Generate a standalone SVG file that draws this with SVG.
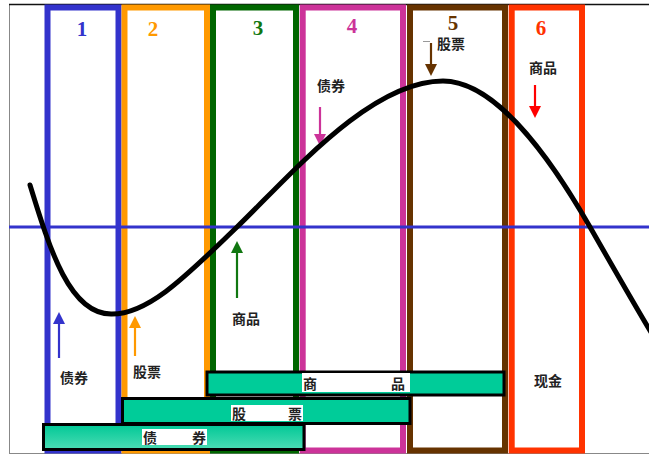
<svg xmlns="http://www.w3.org/2000/svg" width="649" height="456" viewBox="0 0 649 456">
<style>
.col{fill:#ffffff;stroke-width:6}
.num{font-family:"Liberation Serif",serif;font-weight:bold;font-size:21px;text-anchor:middle}
.lbl{font-family:"Noto Sans CJK SC","Noto Sans CJK TC",sans-serif;font-weight:bold;font-size:14px;fill:#222222;text-anchor:middle;dominant-baseline:central}
.bar{stroke:#000000;stroke-width:3}
.blbl{fill:#ffffff}
.arr{stroke-width:2.2;fill:none}
</style>
<defs>
<linearGradient id="g1" x1="0" y1="0" x2="0" y2="1">
<stop offset="0" stop-color="#00c896"/>
<stop offset="1" stop-color="#4cdcb4"/>
</linearGradient>
</defs>
<rect x="0" y="0" width="649" height="456" fill="#ffffff"/>
<line x1="9.5" y1="4" x2="9.5" y2="454" stroke="#888888" stroke-width="1"/>
<line x1="9" y1="453.5" x2="649" y2="453.5" stroke="#888888" stroke-width="1"/>
<line x1="9" y1="4.5" x2="649" y2="4.5" stroke="#111111" stroke-width="1.5"/>

<g id="col1"><rect class="col" x="47.5" y="7.5" width="71" height="443" stroke="#3333cc"/><text class="num" x="82" y="36" fill="#3333cc">1</text></g>
<g id="col2"><rect class="col" x="124.5" y="7.5" width="82.5" height="443" stroke="#ff9900"/><text class="num" x="153" y="36" fill="#ff9900">2</text></g>
<g id="col3"><rect class="col" x="213" y="7.5" width="83" height="443" stroke="#006600"/><text class="num" x="258" y="35" fill="#117711">3</text></g>
<g id="col4"><rect class="col" x="302.7" y="7.5" width="100.3" height="443" stroke="#cc3399"/><text class="num" x="352" y="33" fill="#cc3399">4</text></g>
<g id="col5"><rect class="col" x="410" y="7.5" width="95" height="443" stroke="#663300"/><text class="num" x="453" y="30" fill="#663300">5</text></g>
<g id="col6"><rect class="col" x="511.7" y="7.5" width="70.3" height="443" stroke="#ff3300"/><text class="num" x="541" y="35" fill="#ff3300">6</text></g>

<line id="axis" x1="9" y1="227" x2="649" y2="227" stroke="#3333cc" stroke-width="3"/>

<g id="labels">
<text class="lbl" x="74" y="377">债券</text>
<text class="lbl" x="147" y="371">股票</text>
<text class="lbl" x="246" y="318">商品</text>
<text class="lbl" x="331" y="85">债券</text>
<line x1="423" y1="41.5" x2="430" y2="41.5" stroke="#999999" stroke-width="1"/>
<text class="lbl" x="451" y="43">股票</text>
<text class="lbl" x="543" y="67">商品</text>
<text class="lbl" x="548" y="380">现金</text>
</g>

<g id="arrows">
<line class="arr" x1="59" y1="358" x2="59" y2="322" stroke="#3333cc"/>
<polygon points="59,312 53,324 65,324" fill="#3333cc"/>
<line class="arr" x1="135" y1="356" x2="135" y2="326" stroke="#ff9900"/>
<polygon points="135,316 129,328 141,328" fill="#ff9900"/>
<line class="arr" x1="237" y1="298" x2="237" y2="251" stroke="#117711"/>
<polygon points="237,241 231,253 243,253" fill="#117711"/>
<line class="arr" x1="320" y1="107" x2="320" y2="136" stroke="#cc3399"/>
<polygon points="320,146 314,134 326,134" fill="#cc3399"/>
<line class="arr" x1="431" y1="43" x2="431" y2="66" stroke="#663300"/>
<polygon points="431,76 425,64 437,64" fill="#663300"/>
<line class="arr" x1="535" y1="85" x2="535" y2="108" stroke="#ff0000"/>
<polygon points="535,118 529,106 541,106" fill="#ff0000"/>
</g>

<path id="curve" d="M30,185 C50,250 70,315 112,314 C150,314 190,272 237,227 C290,176 370,81 443,81 C495,81 550,157 590,227 C610,262 630,297 652,334" fill="none" stroke="#000000" stroke-width="5" stroke-linecap="round"/>

<g id="bar-commodity">
<rect class="bar" x="207" y="372" width="297" height="23" fill="#00cc99"/>
<rect class="blbl" x="302" y="373" width="108" height="19"/>
<text class="lbl" x="310" y="383">商</text>
<text class="lbl" x="398" y="383">品</text>
</g>
<g id="bar-stock">
<rect class="bar" x="122.5" y="398.5" width="287.5" height="25" fill="#00cc99"/>
<rect class="blbl" x="231" y="405" width="72" height="16"/>
<text class="lbl" x="239" y="413">股</text>
<text class="lbl" x="295" y="413">票</text>
</g>
<g id="bar-bond">
<rect class="bar" x="43.5" y="424.5" width="260.5" height="25" fill="url(#g1)"/>
<rect class="blbl" x="142" y="429" width="65" height="16"/>
<text class="lbl" x="150" y="437">债</text>
<text class="lbl" x="199" y="437">券</text>
</g>
</svg>
